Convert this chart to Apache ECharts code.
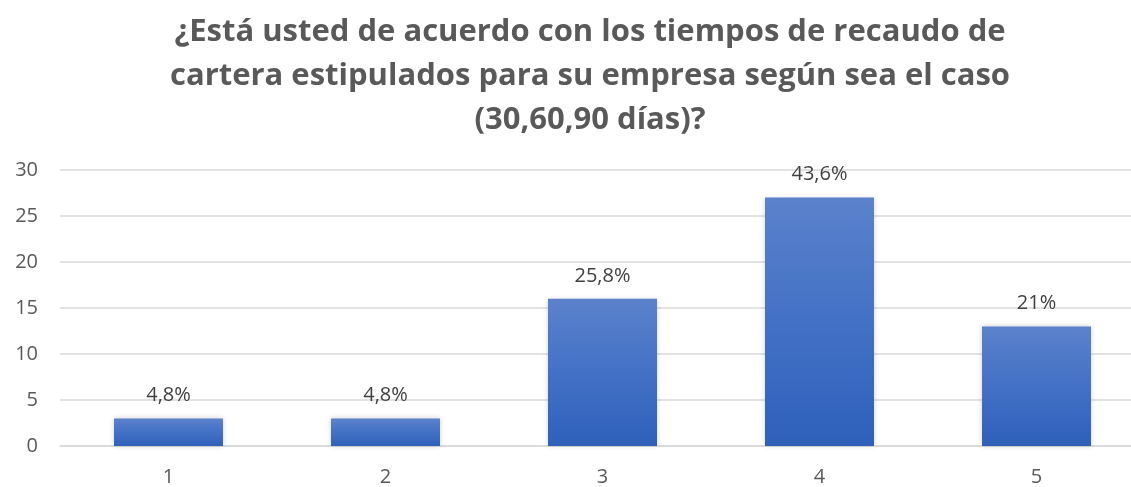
<!DOCTYPE html>
<html><head><meta charset="utf-8">
<script src="https://cdn.jsdelivr.net/npm/echarts@6/dist/echarts.min.js"></script>
<style>html,body{margin:0;padding:0;background:#fff;overflow:hidden}#c{width:1145px;height:487px}</style>
</head><body><div id="c"></div>
<script>
const categories = ['1','2','3','4','5'];
const values = [3, 3, 16, 27, 13];
const labels = ['4,8%','4,8%','25,8%','43,6%','21%'];
const titleText = '¿Está usted de acuerdo con los tiempos de recaudo de\ncartera estipulados para su empresa según sea el caso\n(30,60,90 días)?';

const chart = echarts.init(document.getElementById('c'));
chart.setOption({
  animation: false,
  title: {
    text: titleText,
    left: 585, top: 5, textAlign: 'center',
    textStyle: {fontFamily: 'Open Sans', fontWeight: 'bold', fontSize: 31, lineHeight: 44, color: '#595959'}
  },
  grid: {left: 60, right: 0, top: 170, bottom: 39, containLabel: false},
  xAxis: {
    type: 'category', data: categories,
    axisLine: {show: true, lineStyle: {color: '#d9d9d9', width: 1.5}},
    axisTick: {show: false},
    axisLabel: {color: '#595959', fontSize: 20, fontFamily: 'Open Sans', margin: 21}
  },
  yAxis: {
    type: 'value', min: 0, max: 30, interval: 5,
    axisLine: {show: false}, axisTick: {show: false},
    splitLine: {lineStyle: {color: '#d9d9d9', width: 1.5}},
    axisLabel: {color: '#595959', fontSize: 20, fontFamily: 'Open Sans', margin: 22}
  },
  series: [{
    type: 'bar', data: values, barWidth: 109,
    itemStyle: {
      color: new echarts.graphic.LinearGradient(0,0,0,1,[{offset:0,color:'#5b82cb'},{offset:0.5,color:'#4371c6'},{offset:1,color:'#2e60ba'}]),
      shadowColor: 'rgba(0,0,0,0.18)', shadowBlur: 5
    },
    label: {
      show: true, position: 'top', distance: 13,
      formatter: p => labels[p.dataIndex],
      color: '#404040', fontSize: 20, fontFamily: 'Open Sans'
    }
  }]
});
</script></body></html>
